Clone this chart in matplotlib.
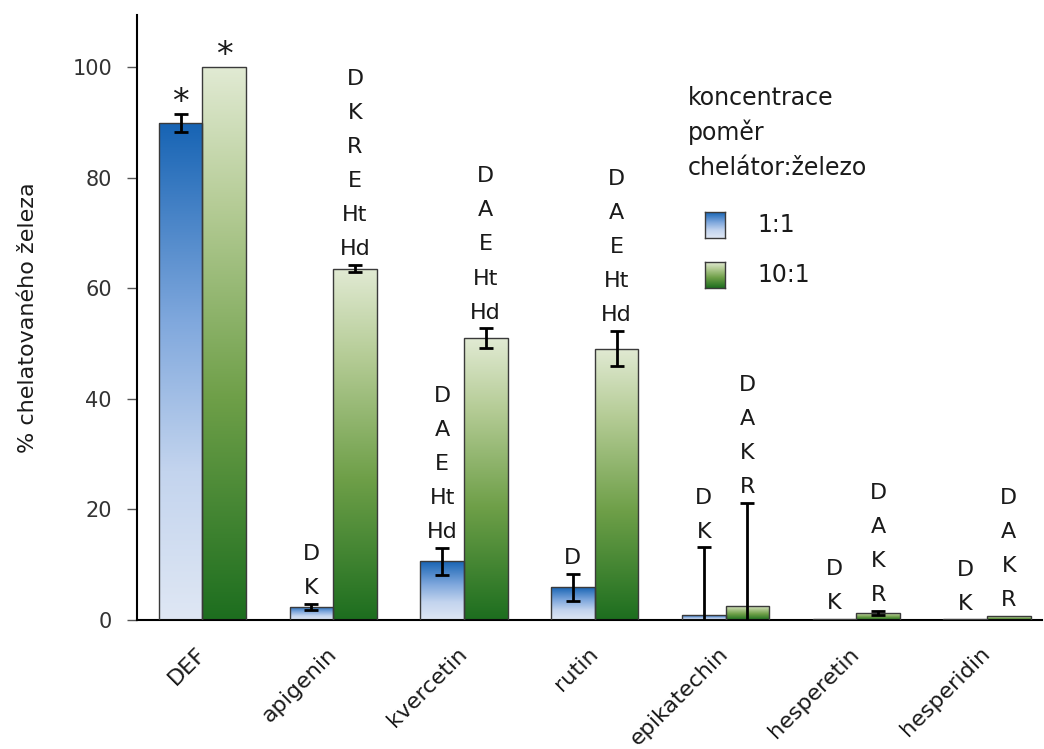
import numpy as np
import matplotlib
matplotlib.use("Agg")
import matplotlib.pyplot as plt
from matplotlib.colors import LinearSegmentedColormap

# data
latky = ["DEF", "apigenin", "kvercetin", "rutin", "epikatechin", "hesperetin", "hesperidin"]
pomer_1_1 = [89.9, 2.4, 10.6, 5.9, 0.85, 0.2, 0.1]
chyba_1_1 = [1.6, 0.5, 2.4, 2.4, 12.3, 0.0, 0.0]
pomer_10_1 = [100.0, 63.6, 51.0, 49.1, 2.6, 1.3, 0.7]
chyba_10_1 = [0.0, 0.7, 1.8, 3.2, 18.6, 0.4, 0.0]
znacky_1_1 = [["*"], ["D", "K"], ["D", "A", "E", "Ht", "Hd"], ["D"],
              ["D", "K"], ["D", "K"], ["D", "K"]]
znacky_10_1 = [["*"], ["D", "K", "R", "E", "Ht", "Hd"], ["D", "A", "E", "Ht", "Hd"],
               ["D", "A", "E", "Ht", "Hd"], ["D", "A", "K", "R"],
               ["D", "A", "K", "R"], ["D", "A", "K", "R"]]
legenda = ["1:1", "10:1"]

modra = LinearSegmentedColormap.from_list(
    "modra", [(0, "#dfe7f4"), (0.3, "#c3d4ee"), (0.6, "#80a8dd"), (1, "#1764b4")])
zelena = LinearSegmentedColormap.from_list(
    "zelena", [(0, "#1d6e1f"), (0.4, "#6e9f48"), (0.75, "#b5cc96"), (1, "#e1ead3")])

fig = plt.figure(figsize=(10.44, 7.49), dpi=100)
ax = fig.add_axes([137 / 1044, 1 - 620 / 749, 905 / 1044, 605 / 749])

x = np.arange(len(latky))
w = 1 / 3
grad = np.linspace(0, 1, 256).reshape(-1, 1)


def kresli(pozice, hodnoty, chyby, cmap, znacky):
    bars = ax.bar(pozice, hodnoty, width=w, facecolor="none", edgecolor="#3a3a3a",
                  linewidth=1.0, zorder=3)
    for b in bars:
        x0, h = b.get_x(), b.get_height()
        im = ax.imshow(grad, extent=[x0, x0 + w, 0, h], origin="lower", aspect="auto",
                       cmap=cmap, zorder=2)
        im.set_clip_path(b)
    for p, v, e in zip(pozice, hodnoty, chyby):
        if e > 0:
            ax.errorbar(p, v, yerr=e, fmt="none", ecolor="black", elinewidth=2,
                        capsize=5, capthick=2, zorder=4)
    for p, v, e, zn in zip(pozice, hodnoty, chyby, znacky):
        top = v + e
        if zn == ["*"]:
            ax.annotate("*", (p, top), xytext=(0, 2), textcoords="offset points",
                        ha="center", va="baseline", fontsize=24, color="#1a1a1a")
            continue
        for i, t in enumerate(reversed(zn)):
            ax.annotate(t, (p, top), xytext=(0, 7 + i * 24.5), textcoords="offset points",
                        ha="center", va="baseline", fontsize=16, color="#1a1a1a")


kresli(x - w / 2, pomer_1_1, chyba_1_1, modra, znacky_1_1)
kresli(x + w / 2, pomer_10_1, chyba_10_1, zelena, znacky_10_1)

ax.set_xlim(-0.5, 6.42)
ax.set_ylim(0, 109.5)
ax.set_yticks([0, 20, 40, 60, 80, 100])
ax.set_xticks(x)
ax.set_xticklabels(latky, rotation=45, ha="right", va="center", rotation_mode="anchor",
                   fontsize=16, color="#1a1a1a")
ax.tick_params(axis="x", length=0, pad=22)
ax.tick_params(axis="y", length=7, width=1, pad=11, labelsize=15, labelcolor="#333333",
               color="#555555")
for s in ["top", "right"]:
    ax.spines[s].set_visible(False)
ax.spines["left"].set_linewidth(1.5)
ax.spines["bottom"].set_linewidth(1.5)

fig.text(28 / 1044, 1 - 318 / 749, "% chelatovaného železa", rotation=90,
         ha="center", va="center", fontsize=16, color="#1a1a1a")

# legend
for i, t in enumerate(["koncentrace", "poměr", "chelátor:železo"]):
    fig.text(688 / 1044, 1 - (105 + 35 * i) / 749, t, ha="left", va="baseline",
             fontsize=17, color="#1a1a1a")
for i, (t, cmap) in enumerate(zip(legenda, [modra, zelena])):
    yc = 225 + 50 * i
    sw = fig.add_axes([705 / 1044, 1 - (yc + 13) / 749, 20 / 1044, 26 / 749])
    sw.imshow(grad, origin="lower", aspect="auto", cmap=cmap)
    sw.set_xticks([])
    sw.set_yticks([])
    for s in sw.spines.values():
        s.set_color("#3a3a3a")
        s.set_linewidth(1)
    fig.text(757 / 1044, 1 - yc / 749, t, ha="left", va="center", fontsize=17,
             color="#1a1a1a")

fig.savefig("out.png", dpi=100)
